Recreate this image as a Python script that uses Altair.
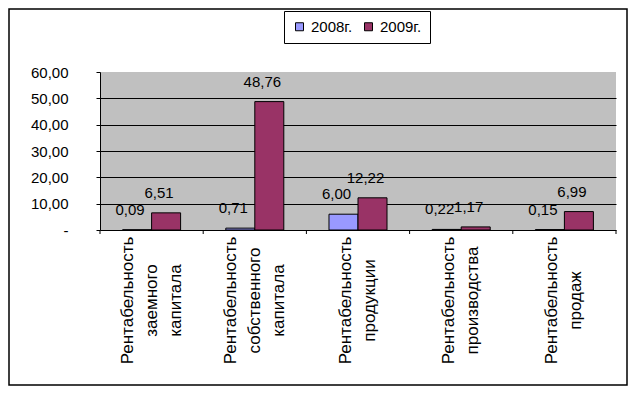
import altair as alt
import pandas as pd

categories = [
    "Рентабельность\nзаемного\nкапитала",
    "Рентабельность\nсобственного\nкапитала",
    "Рентабельность\nпродукции",
    "Рентабельность\nпроизводства",
    "Рентабельность\nпродаж",
]
series = ["2008г.", "2009г."]
values_2008 = [0.09, 0.71, 6.00, 0.22, 0.15]
values_2009 = [6.51, 48.76, 12.22, 1.17, 6.99]
y_ticks = [0, 10, 20, 30, 40, 50, 60]
colors = ["#9999ff", "#993366"]

rows = []
for c, v in zip(categories, values_2008):
    rows.append({"cat": c, "series": series[0], "value": v})
for c, v in zip(categories, values_2009):
    rows.append({"cat": c, "series": series[1], "value": v})
df = pd.DataFrame(rows)
cat_df = pd.DataFrame({"cat": categories})

FONT = "Liberation Sans"
W, H = 516, 158
LH = 24

x_axis = alt.Axis(
    title=None,
    labelAngle=270,
    labelAlign="center",
    labelBaseline="middle",
    labelPadding=70,
    labelLineHeight=LH,
    labelFontSize=17,
    labelFont=FONT,
    labelColor="black",
    labelExpr="split(datum.label, '\\n')",
    labelOffset={
        "condition": {"test": "length(split(datum.value, '\\n')) > 2", "value": -LH},
        "value": -LH / 2,
    },
    labelOverlap=False,
    labelLimit=300,
    ticks=False,
    domainColor="black",
    domainWidth=1,
)
x_scale = alt.Scale(paddingInner=0, paddingOuter=0)


def xenc(**kw):
    return alt.X("cat:N", sort=categories, scale=x_scale, axis=x_axis, **kw)


xoff = alt.XOffset(
    "series:N",
    sort=series,
    scale=alt.Scale(paddingInner=0, paddingOuter=0.779),
)
y_axis = alt.Axis(
    title=None,
    values=y_ticks,
    tickSize=4,
    tickColor="black",
    domainColor="black",
    labelPadding=28,
    labelFontSize=15,
    labelFont=FONT,
    labelColor="black",
    labelExpr="datum.value == 0 ? '-\u00a0\u00a0\u00a0\u00a0' : replace(format(datum.value, '.2f'), '.', ',')",
    grid=True,
    gridColor="black",
    gridWidth=1,
    gridOpacity={"condition": {"test": "datum.value >= 60 || datum.value <= 0", "value": 0}, "value": 1},
)
y_scale = alt.Scale(domain=[0, 60], nice=False, zero=True)
y_enc = alt.Y("value:Q", scale=y_scale, axis=y_axis)

bars = alt.Chart(df).mark_bar(stroke="black", strokeWidth=1).encode(
    x=xenc(),
    xOffset=xoff,
    y=y_enc,
    color=alt.Color(
        "series:N",
        sort=series,
        scale=alt.Scale(domain=series, range=colors),
        legend=alt.Legend(
            title=None,
            orient="none",
            direction="horizontal",
            legendX=184,
            legendY=-61,
            fillColor="white",
            strokeColor="black",
            padding=8,
            symbolType="square",
            symbolSize=64,
            symbolStrokeColor="black",
            symbolStrokeWidth=1,
            labelFontSize=15,
            labelFont=FONT,
            labelColor="black",
            labelOffset=4,
            columnPadding=8,
        ),
    ),
)

labels = alt.Chart(df).transform_calculate(
    txt="replace(format(datum.value, '.2f'), '.', ',')"
).mark_text(
    dx=-7, dy=-20, fontSize=15, font=FONT, color="black", baseline="middle", align="center"
).encode(
    x=xenc(),
    xOffset=xoff,
    y=y_enc,
    text="txt:N",
)

ticks_left = alt.Chart(cat_df).mark_rule(color="black", strokeWidth=1).encode(
    x=xenc(bandPosition=0),
    y=alt.value(H),
    y2=alt.value(H + 4),
)
ticks_right = alt.Chart(cat_df.tail(1)).mark_rule(color="black", strokeWidth=1).encode(
    x=xenc(bandPosition=1),
    y=alt.value(H),
    y2=alt.value(H + 4),
)

border = alt.Chart(pd.DataFrame({"a": [0]})).mark_rect(
    filled=False, stroke="black", strokeWidth=1.5
).encode(
    x=alt.value(-91),
    x2=alt.value(W + 11),
    y=alt.value(-63),
    y2=alt.value(H + 155),
)

chart = alt.layer(bars, labels, ticks_left, ticks_right, border).properties(
    width=W,
    height=H,
    padding={"left": 92, "top": 64, "right": 12, "bottom": 156},
    autosize=alt.AutoSizeParams(type="none"),
    background="white",
).configure_view(
    fill="#c0c0c0",
    stroke=None,
)

chart.save("out.html", embed_options={"renderer": "svg", "actions": False})
